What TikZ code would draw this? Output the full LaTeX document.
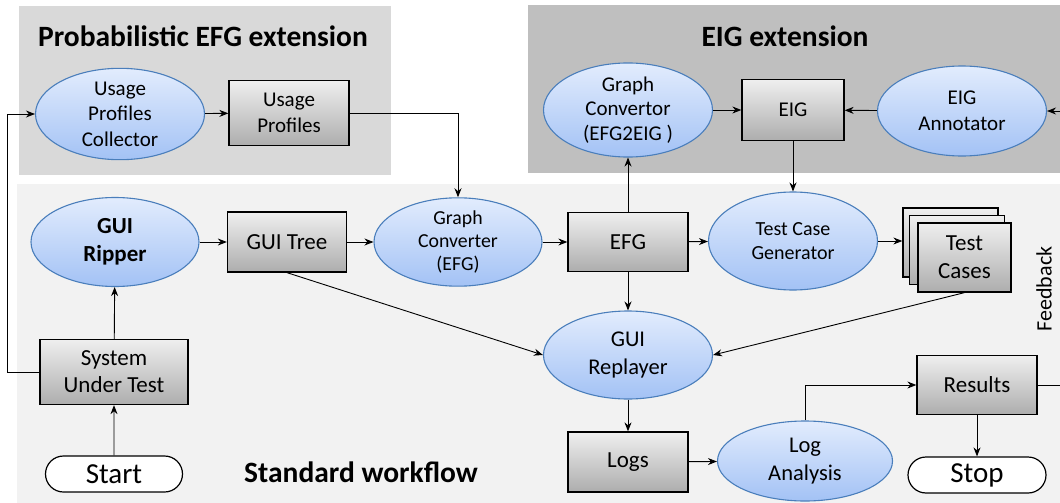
\documentclass[tikz,border=0pt]{standalone}
\usepackage{fontspec}
\setmainfont{Carlito}
\usetikzlibrary{arrows.meta,shapes.geometric,shapes.misc}

\definecolor{panelA}{HTML}{D9D9D9}
\definecolor{panelB}{HTML}{BFBFBF}
\definecolor{panelC}{HTML}{F2F2F2}
\definecolor{ovalTop}{HTML}{E2ECFD}
\definecolor{ovalBot}{HTML}{A3C2F5}
\definecolor{ovalLine}{HTML}{4A7EBB}
\definecolor{boxTop}{HTML}{EFEFEF}
\definecolor{boxBot}{HTML}{ADADAD}

\tikzset{
  txt/.style={font=\fontsize{23}{27}\selectfont, align=center},
  midtxt/.style={font=\fontsize{21}{25.5}\selectfont, align=center},
  smalltxt/.style={font=\fontsize{20}{24}\selectfont, align=center},
  oval/.style={ellipse, draw=ovalLine, line width=1.1pt, top color=ovalTop, bottom color=ovalBot, inner sep=0pt},
  databox/.style={rectangle, draw=black, line width=1.3pt, top color=boxTop, bottom color=boxBot, inner sep=0pt},
  terminal/.style={rounded rectangle, draw=black, line width=1.2pt, fill=white, inner sep=0pt, font=\fontsize{29}{32}\selectfont},
  title/.style={font=\bfseries\fontsize{29.5}{34}\selectfont},
  flow/.style={line width=0.9pt, -{Stealth[length=9pt,width=7pt]}},
  plain/.style={line width=0.9pt}
}

\begin{document}
\begin{tikzpicture}[x=1pt,y=-1pt]
\useasboundingbox (0,0) rectangle (1060,503);

% panels
\fill[panelA] (19,6) rectangle (391,175);
\fill[panelB] (528,5) rectangle (1060,173);
\fill[panelC] (17,184) rectangle (1060,503);

\node[title] (tprob) at (203,36) {Probabilistic EFG extension};
\node[title] (teig) at (785,36) {EIG extension};
\node[title] (tstd) at (361,472) {Standard workflow};

% probabilistic extension
\node[oval, minimum width=169pt, minimum height=87pt, midtxt] (upc) at (120,114) {Usage\\Profiles\\Collector};
\node[databox, minimum width=120pt, minimum height=65pt, midtxt] (up) at (289,113) {Usage\\Profiles};

% EIG extension
\node[oval, minimum width=169pt, minimum height=90pt, midtxt, font=\fontsize{21}{24.5}\selectfont] (gc2) at (628,110) {Graph\\Convertor\\(EFG2EIG )};
\node[databox, minimum width=102pt, minimum height=61pt, midtxt] (eig) at (793,110) {EIG};
\node[oval, minimum width=169pt, minimum height=90pt, midtxt] (ann) at (962,111) {EIG\\Annotator};
\coordinate (annin) at (1060,111);

% standard workflow
\node[oval, minimum width=168pt, minimum height=89pt, txt, font=\bfseries\fontsize{23}{28}\selectfont] (rip) at (115,242) {GUI\\Ripper};
\node[databox, minimum width=119pt, minimum height=60pt, txt] (tree) at (287,242) {GUI Tree};
\node[oval, minimum width=168pt, minimum height=88pt, smalltxt, font=\fontsize{19.8}{23}\selectfont] (gc1) at (458,242) {Graph\\Converter\\(EFG)};
\node[databox, minimum width=120pt, minimum height=59pt, txt] (efg) at (628,242) {EFG};
\node[oval, minimum width=169pt, minimum height=98pt, smalltxt] (tcg) at (793,241) {Test Case\\Generator};

\node[databox, minimum width=95pt, minimum height=69pt] (tc3) at (950.5,242.5) {};
\node[databox, minimum width=95pt, minimum height=69pt] (tc2) at (957,250) {};
\node[databox, minimum width=93pt, minimum height=69pt, txt, font=\fontsize{23}{28}\selectfont] (tc) at (964.5,257.5) {Test\\Cases};

\node[databox, minimum width=148pt, minimum height=65pt, txt] (sut) at (114,372) {System\\Under Test};
\node[oval, minimum width=169pt, minimum height=88pt, txt, font=\fontsize{22.5}{28}\selectfont] (rep) at (628,355) {GUI\\Replayer};
\node[databox, minimum width=120pt, minimum height=60pt, txt] (logs) at (628,462) {Logs};
\node[oval, minimum width=175pt, minimum height=80pt, txt, font=\fontsize{22.5}{28}\selectfont] (ana) at (805,461) {Log\\Analysis};
\node[databox, minimum width=120pt, minimum height=59pt, txt] (res) at (977,385) {Results};
\coordinate (resout) at (1060,385);

\node[terminal, minimum width=137pt, minimum height=36pt] (start) at (114,474) {Start};
\node[terminal, minimum width=138pt, minimum height=36pt] (stop) at (977,475) {Stop};

\node[txt, font=\fontsize{22}{26}\selectfont, rotate=90] (fb) at (1044,289) {Feedback};

% connectors
\draw[flow] (start) -- (sut);
\draw[flow] (sut) -- (rip);
\draw[flow] (sut.west) -| (7,114) -- (upc.west);
\draw[flow] (upc) -- (up);
\draw[flow] (up.east) -| (gc1.north);
\draw[flow] (rip) -- (tree);
\draw[flow] (tree) -- (gc1);
\draw[flow] (gc1) -- (efg);
\draw[flow] (efg) -- (gc2);
\draw[flow] (gc2) -- (eig);
\draw[flow] (ann) -- (eig);
\draw[flow] (annin) -- (ann.east);
\draw[flow] (eig.south) -- (tcg.north);
\draw[flow] (efg) -- (tcg);
\draw[flow] (tcg.east) -- (tc3.west |- tcg.east);
\draw[flow] (efg) -- (rep);
\draw[flow] (tree.south) -- (rep.west);
\draw[flow] (tc.south) -- (rep.east);
\draw[flow] (rep) -- (logs);
\draw[flow] (logs) -- (ana);
\draw[flow] (ana.north) |- (res.west);
\draw[flow] (res) -- (stop);
\draw[plain] (res.east) -- (resout);
\end{tikzpicture}
\end{document}
